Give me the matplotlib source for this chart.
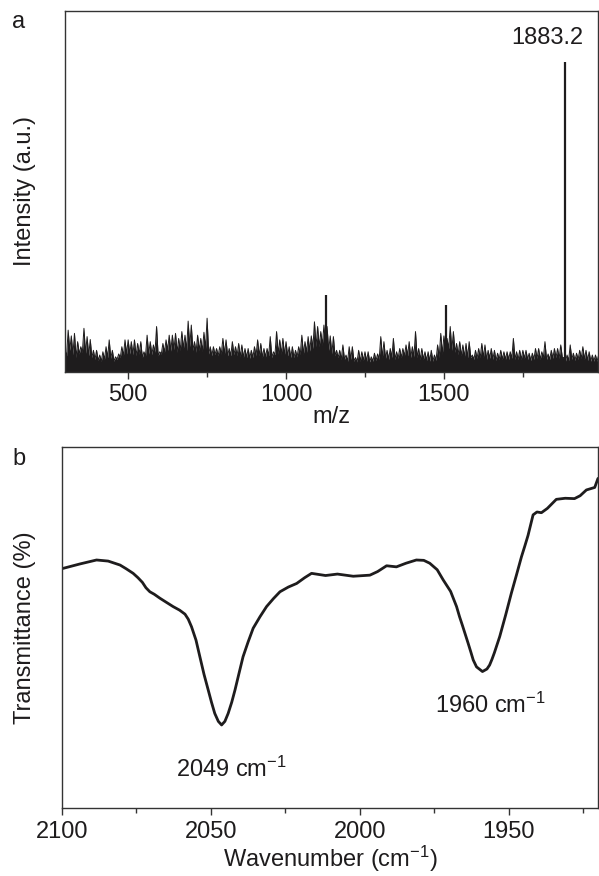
import numpy as np
import matplotlib
matplotlib.use("Agg")
import matplotlib.pyplot as plt

plt.rcParams['font.family'] = ['Liberation Sans', 'DejaVu Sans']
plt.rcParams['mathtext.fontset'] = 'custom'
plt.rcParams['mathtext.rm'] = 'Liberation Sans'
plt.rcParams['mathtext.it'] = 'Liberation Sans:italic'
plt.rcParams['mathtext.bf'] = 'Liberation Sans:bold'

INK = '#1e1c1d'

# ---------------- Panel a: mass spectrum ----------------
# noise spike tops at m/z 300, 310, ..., 1990
ms_peak_tops = [
    0.060, 0.116, 0.100, 0.107, 0.084, 0.070, 0.121, 0.098, 0.090, 0.060,
    0.060, 0.047, 0.056, 0.070, 0.089, 0.060, 0.042, 0.050, 0.070, 0.089,
    0.089, 0.084, 0.089, 0.079, 0.084, 0.056, 0.102, 0.084, 0.075, 0.126,
    0.056, 0.079, 0.089, 0.102, 0.102, 0.107, 0.093, 0.112, 0.102, 0.141,
    0.130, 0.084, 0.102, 0.093, 0.110, 0.149, 0.070, 0.070, 0.065, 0.070,
    0.093, 0.089, 0.065, 0.084, 0.070, 0.079, 0.075, 0.065, 0.065, 0.060,
    0.070, 0.089, 0.079, 0.065, 0.065, 0.098, 0.056, 0.112, 0.089, 0.093,
    0.084, 0.070, 0.070, 0.060, 0.070, 0.102, 0.084, 0.098, 0.100, 0.139,
    0.126, 0.112, 0.130, 0.126, 0.100, 0.098, 0.060, 0.060, 0.075, 0.047,
    0.070, 0.070, 0.040, 0.060, 0.056, 0.056, 0.056, 0.042, 0.052, 0.050,
    0.098, 0.084, 0.060, 0.065, 0.093, 0.056, 0.065, 0.065, 0.075, 0.084,
    0.070, 0.112, 0.065, 0.065, 0.056, 0.056, 0.060, 0.047, 0.075, 0.107,
    0.100, 0.093, 0.126, 0.112, 0.079, 0.084, 0.075, 0.079, 0.084, 0.047,
    0.060, 0.065, 0.079, 0.075, 0.060, 0.065, 0.060, 0.052, 0.060, 0.056,
    0.056, 0.056, 0.093, 0.056, 0.060, 0.060, 0.060, 0.052, 0.052, 0.065,
    0.065, 0.056, 0.084, 0.050, 0.060, 0.065, 0.065, 0.075, 0.040, 0.047,
    0.075, 0.052, 0.052, 0.060, 0.070, 0.060, 0.056, 0.047, 0.047, 0.047,
]
# noise valleys at m/z 305, 315, ..., 1985
ms_valleys = [
    0.045, 0.060, 0.048, 0.040, 0.050, 0.055, 0.052, 0.045, 0.040, 0.035,
    0.032, 0.030, 0.035, 0.040, 0.038, 0.030, 0.035, 0.040, 0.045, 0.050,
    0.050, 0.048, 0.045, 0.050, 0.040, 0.045, 0.050, 0.048, 0.055, 0.045,
    0.050, 0.055, 0.060, 0.058, 0.062, 0.055, 0.060, 0.065, 0.060, 0.070,
    0.060, 0.055, 0.060, 0.058, 0.065, 0.050, 0.045, 0.048, 0.045, 0.050,
    0.050, 0.045, 0.045, 0.048, 0.045, 0.042, 0.040, 0.040, 0.038, 0.040,
    0.045, 0.045, 0.040, 0.042, 0.045, 0.040, 0.048, 0.050, 0.050, 0.048,
    0.045, 0.040, 0.040, 0.042, 0.048, 0.050, 0.055, 0.058, 0.065, 0.070,
    0.070, 0.075, 0.065, 0.060, 0.050, 0.045, 0.040, 0.035, 0.035, 0.030,
    0.035, 0.030, 0.028, 0.030, 0.032, 0.030, 0.028, 0.030, 0.032, 0.035,
    0.040, 0.038, 0.035, 0.040, 0.035, 0.038, 0.040, 0.045, 0.045, 0.040,
    0.042, 0.040, 0.035, 0.035, 0.032, 0.030, 0.030, 0.032, 0.040, 0.050,
    0.060, 0.065, 0.060, 0.055, 0.048, 0.045, 0.042, 0.040, 0.040, 0.035,
    0.038, 0.040, 0.040, 0.035, 0.038, 0.035, 0.032, 0.035, 0.035, 0.035,
    0.035, 0.038, 0.035, 0.035, 0.035, 0.038, 0.035, 0.032, 0.035, 0.038,
    0.035, 0.040, 0.035, 0.035, 0.038, 0.040, 0.038, 0.040, 0.030, 0.032,
    0.035, 0.032, 0.035, 0.038, 0.035, 0.032, 0.030, 0.030, 0.030,
]
ms_start, ms_step = 300, 10

# distinct peaks
major_mz = [1125, 1507, 1883.2]
major_int = [0.213, 0.186, 0.860]

ms_xticks = [500, 1000, 1500]
ms_xminor = [750, 1250, 1750]
ms_label = "1883.2"

# ---------------- Panel b: IR spectrum ----------------
ir_wn = [2100.0, 2094.0, 2088.4, 2084.5, 2080.5, 2078.5, 2076.1, 2074.5, 2073.0, 2071.8,
         2070.5, 2069.0, 2067.1, 2065.0, 2062.7, 2060.5, 2058.7, 2057.6, 2056.5, 2055.0,
         2053.7, 2052.3, 2050.9, 2049.8, 2048.7, 2047.5, 2046.4, 2045.3, 2044.2, 2043.0,
         2041.9, 2040.5, 2039.2, 2037.5, 2035.8, 2033.5, 2031.3, 2029.0, 2026.8, 2024.0,
         2021.2, 2018.5, 2016.2, 2011.5, 2007.5, 2002.2, 1996.6, 1994.0, 1991.0, 1987.7,
         1984.5, 1981.0, 1978.5, 1976.5, 1974.0, 1972.0, 1969.5, 1967.5, 1966.5, 1965.5,
         1963.6, 1962.7, 1961.9, 1960.8, 1958.8, 1957.3, 1956.4, 1955.6, 1954.8, 1953.0,
         1952.0, 1951.0, 1949.1, 1947.4, 1945.7, 1944.6, 1943.5, 1941.8, 1940.5, 1939.0,
         1937.0, 1934.0, 1931.0, 1927.9, 1926.0, 1923.9, 1921.1, 1920.0]
ir_t = [66.3, 67.6, 68.7, 68.4, 67.3, 66.3, 65.0, 63.8, 62.5, 61.0,
        59.9, 59.2, 58.1, 57.0, 55.8, 54.8, 53.7, 52.3, 50.2, 46.5,
        41.9, 37.0, 32.7, 29.3, 26.2, 24.0, 23.0, 24.0, 26.2, 29.3,
        32.7, 37.5, 41.9, 46.0, 49.8, 53.0, 55.8, 58.0, 59.9, 61.2,
        62.2, 63.8, 65.0, 64.4, 64.8, 64.2, 64.5, 65.5, 67.1, 66.8,
        67.8, 68.7, 68.6, 67.8, 66.0, 63.2, 60.0, 55.8, 53.0, 50.5,
        45.6, 43.2, 41.0, 39.1, 37.8, 38.5, 39.6, 41.2, 43.0, 47.5,
        50.5, 53.5, 59.5, 64.5, 69.6, 72.5, 75.5, 81.2, 82.0, 81.8,
        83.0, 85.5, 85.8, 85.7, 86.5, 88.1, 88.8, 91.3]
ir_xticks = [2100, 2050, 2000, 1950]
ir_xminor = [2075, 2025, 1975, 1925]
ir_labels = ["2049 cm$^{-1}$", "1960 cm$^{-1}$"]

# ---------------- Figure ----------------
W, H = 599, 876
fig = plt.figure(figsize=(W / 100, H / 100), dpi=100)

def box(l, t, r, b):
    return [l / W, 1 - b / H, (r - l) / W, (b - t) / H]

FS = 17

ax1 = fig.add_axes(box(65, 11, 598, 372))
n_p = len(ms_peak_tops)
n_v = len(ms_valleys)
mz = np.empty(n_p + n_v)
inten = np.empty(n_p + n_v)
mz[0::2] = ms_start + ms_step * np.arange(n_p)
mz[1::2] = ms_start + ms_step / 2 + ms_step * np.arange(n_v)
inten[0::2] = ms_peak_tops
inten[1::2] = ms_valleys
ax1.fill_between(mz, 0, inten, color=INK, lw=0)
ax1.plot(mz, inten, color=INK, lw=0.7)
ax1.vlines(major_mz, 0, major_int, color=INK, lw=1.6)
ax1.set_xlim(300, 1988)
ax1.set_ylim(0, 1)
ax1.set_yticks([])
ax1.set_xticks(ms_xticks)
ax1.set_xticks(ms_xminor, minor=True)
ax1.text(1829, 0.925, ms_label, ha='center', va='center', fontsize=FS, color=INK)

ax2 = fig.add_axes(box(62, 447, 598, 808))
ax2.plot(ir_wn, ir_t, color=INK, lw=2.0, solid_joinstyle='round', solid_capstyle='round')
ax2.set_xlim(2100, 1920)
ax2.set_ylim(0, 100)
ax2.set_yticks([])
ax2.set_xticks(ir_xticks)
ax2.set_xticks(ir_xminor, minor=True)
ax2.text(2061.7, 8.6, ir_labels[0], ha='left', va='baseline', fontsize=FS, color=INK)
ax2.text(1974.8, 26.3, ir_labels[1], ha='left', va='baseline', fontsize=FS, color=INK)

for ax in (ax1, ax2):
    for s in ax.spines.values():
        s.set_linewidth(1.0)
        s.set_color('#333333')
    ax.tick_params(axis='x', which='major', direction='out', length=5, width=1.0,
                   labelsize=FS, pad=4, colors='#333333', labelcolor=INK)
    ax.tick_params(axis='x', which='minor', direction='out', length=3.5, width=1.0,
                   colors='#333333')

# axis titles and panel letters
fig.text(25 / W, 1 - 191 / H, "Intensity (a.u.)", rotation=90, ha='center', va='center',
         fontsize=FS, color=INK)
fig.text(25 / W, 1 - 628 / H, "Transmittance (%)", rotation=90, ha='center', va='center',
         fontsize=FS, color=INK)
fig.text(331 / W, 1 - 423 / H, "m/z", ha='center', va='baseline', fontsize=FS, color=INK)
fig.text(330 / W, 1 - 867 / H, "Wavenumber (cm$^{-1}$)", ha='center', va='baseline',
         fontsize=FS, color=INK)
fig.text(12 / W, 1 - 28 / H, "a", ha='left', va='baseline', fontsize=FS, color=INK)
fig.text(12 / W, 1 - 465 / H, "b", ha='left', va='baseline', fontsize=FS, color=INK)

fig.savefig("out.png", dpi=100)
